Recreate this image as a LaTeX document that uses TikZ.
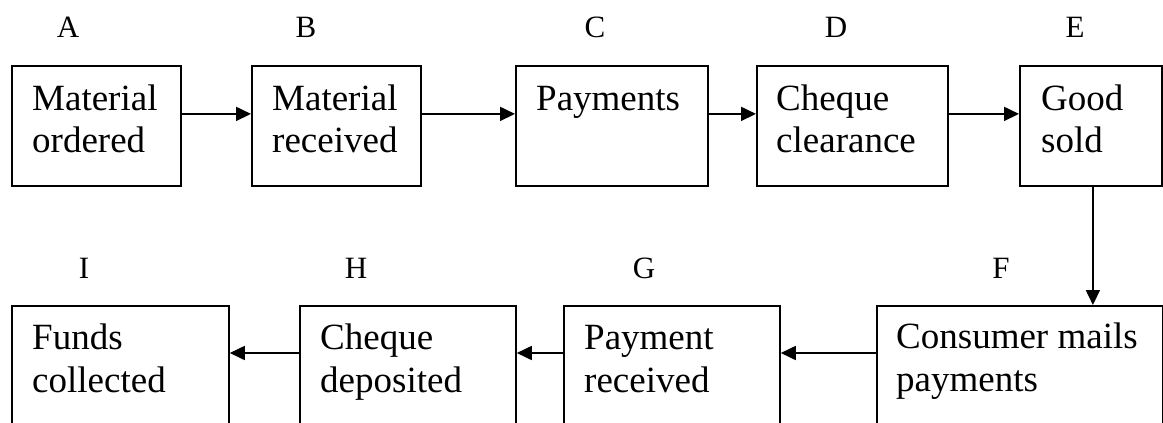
\documentclass[tikz,border=0pt]{standalone}
\usepackage{fontspec}
\setmainfont{Liberation Serif}
\usetikzlibrary{arrows.meta,calc}
% two lines whose baseline is the first line's baseline
\newcommand{\stagelines}[2]{\vtop{\hbox{#1}\hbox{#2}}}
\tikzset{
  x=1pt, y=1pt,
  stage/.style={draw, line width=1.8pt, inner sep=0pt, anchor=north west},
  boxtext/.style={anchor=base west, inner sep=0pt,
    font=\fontsize{37}{43}\selectfont},
  tag/.style={anchor=base, inner sep=0pt, font=\fontsize{31}{36}\selectfont},
  flow/.style={line width=1.8pt, -{Triangle[length=15pt,width=14pt]}}
}
\begin{document}
\begin{tikzpicture}
\clip (0,0) rectangle (1163,-423);
\fill[white] (0,0) rectangle (1163,-423);

% top row
\node[stage, minimum width=169, minimum height=120] (a) at (11,-65) {};
\node[stage, minimum width=169, minimum height=120] (b) at (251,-65) {};
\node[stage, minimum width=192, minimum height=120] (c) at (515,-65) {};
\node[stage, minimum width=191, minimum height=120] (d) at (756,-65) {};
\node[stage, minimum width=142, minimum height=120] (e) at (1019,-65) {};

% bottom row (runs past the lower edge)
\node[stage, minimum width=285.5, minimum height=140] (f) at (876,-305) {};
\node[stage, minimum width=216, minimum height=140] (g) at (563,-305) {};
\node[stage, minimum width=216, minimum height=140] (h) at (299,-305) {};
\node[stage, minimum width=217, minimum height=140] (i) at (11,-305) {};

% box texts
\node[boxtext] (ta) at ($(a.north west)+(21,-45)$) {\stagelines{Material}{ordered}};
\node[boxtext] (tb) at ($(b.north west)+(21,-45)$) {\stagelines{Material}{received}};
\node[boxtext] (tc) at ($(c.north west)+(21,-45)$) {Payments};
\node[boxtext] (td) at ($(d.north west)+(20,-45)$) {\stagelines{Cheque}{clearance}};
\node[boxtext] (te) at ($(e.north west)+(22,-45)$) {\stagelines{Good}{sold}};
\node[boxtext] (tf) at ($(f.north west)+(20,-43)$) {\stagelines{Consumer mails}{payments}};
\node[boxtext] (tg) at ($(g.north west)+(21,-44)$) {\stagelines{Payment}{received}};
\node[boxtext] (th) at ($(h.north west)+(21,-44)$) {\stagelines{Cheque}{deposited}};
\node[boxtext] (ti) at ($(i.north west)+(21,-44)$) {\stagelines{Funds}{collected}};

% letter tags
\node[tag] (la) at (68,-37) {A};
\node[tag] (lb) at (306,-37) {B};
\node[tag] (lc) at (595,-37) {C};
\node[tag] (ld) at (836,-37) {D};
\node[tag] (le) at (1075,-37) {E};
\node[tag] (lf) at (1001,-278) {F};
\node[tag] (lg) at (644,-278) {G};
\node[tag] (lh) at (356,-278) {H};
\node[tag] (li) at (84,-278) {I};

% connectors
\draw[flow] ([yshift=12]a.east) -- ([yshift=12]b.west);
\draw[flow] ([yshift=12]b.east) -- ([yshift=12]c.west);
\draw[flow] ([yshift=12]c.east) -- ([yshift=12]d.west);
\draw[flow] ([yshift=12]d.east) -- ([yshift=12]e.west);
\draw[flow] ([xshift=2]e.south) -- ([xshift=2]e.south |- f.north);
\draw[flow] ([yshift=-48]f.north west) -- ([yshift=-48]g.north east);
\draw[flow] ([yshift=-48]g.north west) -- ([yshift=-48]h.north east);
\draw[flow] ([yshift=-48]h.north west) -- ([yshift=-48]i.north east);
\end{tikzpicture}
\end{document}
